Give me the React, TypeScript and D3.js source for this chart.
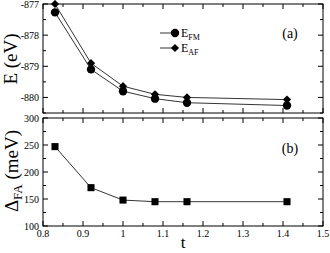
import { useRef, useEffect } from 'react';
import * as d3 from 'd3';

const tValues = [0.83, 0.92, 1.0, 1.08, 1.16, 1.41];
const eFM = [-877.27, -879.1, -879.8, -880.04, -880.17, -880.26];
const eAF = [-877.0, -878.9, -879.64, -879.9, -880.0, -880.07];
const deltaFA = [247, 171, 148, 145, 145, 145];
const eTicks = [-880, -879, -878, -877];
const dTicks = [100, 150, 200, 250, 300];
const tTicks = [0.8, 0.9, 1, 1.1, 1.2, 1.3, 1.4, 1.5];

const W = 330;
const H = 253;
const font = 'Times New Roman';

function App() {
  const ref = useRef<SVGSVGElement>(null);

  useEffect(() => {
    const svg = d3.select(ref.current);
    svg.selectAll('*').remove();
    svg.attr('font-family', font);

    const x = d3.scaleLinear().domain([0.8, 1.5]).range([43, 323]);
    const yTop = d3.scaleLinear().domain([-880.5, -877]).range([113, 4]);
    const yBot = d3.scaleLinear().domain([100, 300]).range([226, 118]);

    // frames + ticks for a panel
    const panel = (y: d3.ScaleLinear<number, number>, majors: number[], minorStep: number, labels: boolean) => {
      const [y0, y1] = y.range();
      const g = svg.append('g');
      g.append('rect')
        .attr('x', x(0.8)).attr('y', y1)
        .attr('width', x(1.5) - x(0.8)).attr('height', y0 - y1)
        .attr('fill', 'none').attr('stroke', 'black').attr('stroke-width', 1);

      const xt = d3.range(0.8, 1.5001, 0.05);
      xt.forEach((v, i) => {
        const len = i % 2 === 0 ? 5 : 3;
        g.append('line').attr('x1', x(v)).attr('x2', x(v)).attr('y1', y0).attr('y2', y0 - len).attr('stroke', 'black');
        g.append('line').attr('x1', x(v)).attr('x2', x(v)).attr('y1', y1).attr('y2', y1 + len).attr('stroke', 'black');
      });

      const [d0, d1] = y.domain();
      d3.range(d0, d1 + 1e-6, minorStep).forEach(v => {
        const isMajor = majors.some(m => Math.abs(m - v) < 1e-6);
        const len = isMajor ? 5 : 3;
        g.append('line').attr('x1', x(0.8)).attr('x2', x(0.8) + len).attr('y1', y(v)).attr('y2', y(v)).attr('stroke', 'black');
        g.append('line').attr('x1', x(1.5)).attr('x2', x(1.5) - len).attr('y1', y(v)).attr('y2', y(v)).attr('stroke', 'black');
      });

      g.selectAll('text.yl')
        .data(majors)
        .enter()
        .append('text')
        .attr('x', x(0.8) - 4)
        .attr('y', d => y(d) + 3.5)
        .attr('text-anchor', 'end')
        .attr('font-size', 10)
        .text(d => `${d}`);

      if (labels) {
        g.selectAll('text.xl')
          .data(tTicks)
          .enter()
          .append('text')
          .attr('x', d => x(d))
          .attr('y', y0 + 11)
          .attr('text-anchor', 'middle')
          .attr('font-size', 10)
          .text(d => d3.format('')(d));
      }
    };

    panel(yTop, eTicks, 0.5, false);
    panel(yBot, dTicks, 25, true);

    // top panel lines
    const lineTop = d3.line<number>().x((_, i) => x(tValues[i])).y(d => yTop(d));
    svg.append('path').attr('d', lineTop(eFM)).attr('fill', 'none').attr('stroke', 'black').attr('stroke-width', 0.8);
    svg.append('path').attr('d', lineTop(eAF)).attr('fill', 'none').attr('stroke', 'black').attr('stroke-width', 0.8);

    const circle = d3.symbol().type(d3.symbolCircle).size(55);
    const diamond = d3.symbol().type(d3.symbolSquare).size(34);
    const square = d3.symbol().type(d3.symbolSquare).size(50);

    svg.selectAll('path.fm')
      .data(eFM)
      .enter()
      .append('path')
      .attr('d', circle)
      .attr('transform', (d, i) => `translate(${x(tValues[i])},${yTop(d)})`);
    svg.selectAll('path.af')
      .data(eAF)
      .enter()
      .append('path')
      .attr('d', diamond)
      .attr('transform', (d, i) => `translate(${x(tValues[i])},${yTop(d)}) rotate(45)`);

    // legend
    const legend = [
      { sym: circle, label: 'FM', y: 33, rot: 0 },
      { sym: diamond, label: 'AF', y: 48, rot: 45 },
    ];
    legend.forEach(l => {
      svg.append('line').attr('x1', 160).attr('x2', 175).attr('y1', l.y).attr('y2', l.y).attr('stroke', 'black').attr('stroke-width', 0.8);
      svg.append('path').attr('d', l.sym).attr('transform', `translate(175,${l.y}) rotate(${l.rot})`);
      const t = svg.append('text').attr('x', 181).attr('y', l.y + 4).attr('font-size', 12);
      t.append('tspan').text('E');
      t.append('tspan').attr('dy', 3).attr('font-size', 8).text(l.label);
    });

    svg.append('text').attr('x', 290).attr('y', 38).attr('text-anchor', 'middle')
      .attr('font-size', 14).text('(a)');
    svg.append('text').attr('x', 290).attr('y', 153).attr('text-anchor', 'middle')
      .attr('font-size', 14).text('(b)');

    // bottom panel
    const lineBot = d3.line<number>().x((_, i) => x(tValues[i])).y(d => yBot(d));
    svg.append('path').attr('d', lineBot(deltaFA)).attr('fill', 'none').attr('stroke', 'black').attr('stroke-width', 0.8);
    svg.selectAll('path.sq')
      .data(deltaFA)
      .enter()
      .append('path')
      .attr('d', square)
      .attr('transform', (d, i) => `translate(${x(tValues[i])},${yBot(d)})`);

    // axis titles
    svg.append('text').attr('transform', 'translate(17,59) rotate(-90)').attr('text-anchor', 'middle')
      .attr('font-size', 19).text('E (eV)');
    const dl = svg.append('text').attr('transform', 'translate(18,171) rotate(-90)').attr('text-anchor', 'middle')
      .attr('font-size', 19);
    dl.append('tspan').text('Δ');
    dl.append('tspan').attr('dy', 4).attr('font-size', 13).text('FA');
    dl.append('tspan').attr('dy', -4).text(' (meV)');

    svg.append('text').attr('x', 183).attr('y', 248).attr('text-anchor', 'middle')
      .attr('font-size', 17).text('t');
  }, []);

  return <svg ref={ref} width={W} height={H} style={{ position: 'absolute', left: 0, top: 0 }} />;
}

export default App;
